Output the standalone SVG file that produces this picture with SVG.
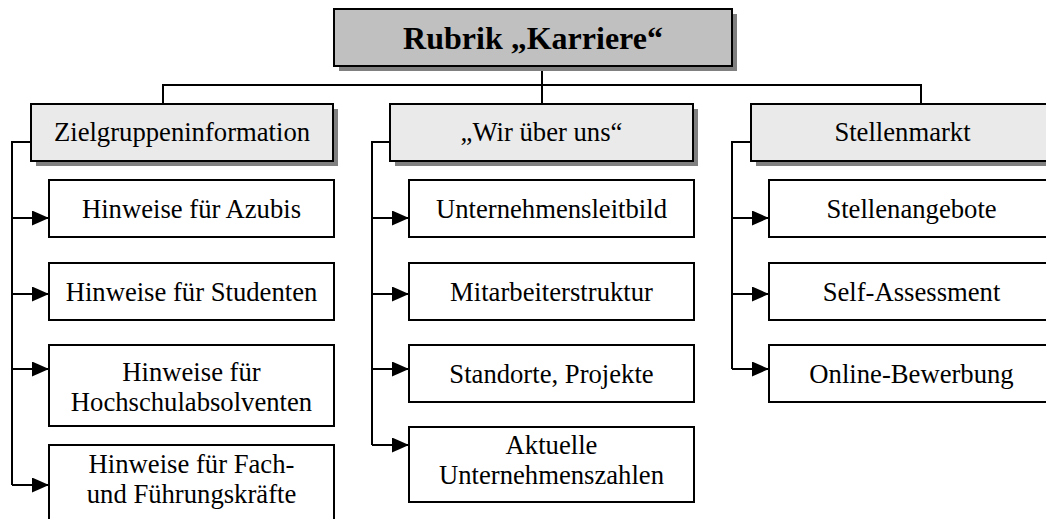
<svg xmlns="http://www.w3.org/2000/svg" width="1046" height="519" viewBox="0 0 1046 519">
<style>
.box{fill:#ffffff;stroke:#000;stroke-width:2}
.hdr{fill:#eaeaea;stroke:#000;stroke-width:2}
.top{fill:#c0c0c0;stroke:#000;stroke-width:2}
.sh{fill:#808080}
.t{font-family:'Liberation Serif','Times New Roman',serif;font-size:26.67px;fill:#000;text-anchor:middle}
.tt{font-family:'Liberation Serif','Times New Roman',serif;font-size:32px;font-weight:bold;fill:#000;text-anchor:middle}
.ln{fill:none;stroke:#000;stroke-width:2}
</style>
<defs>
<marker id="ah" markerUnits="userSpaceOnUse" markerWidth="17" markerHeight="15" refX="17" refY="7.5" orient="auto">
<path d="M0,0 L17,7.5 L0,15 Z" fill="#000"/>
</marker>
</defs>
<rect width="1046" height="519" fill="#fff"/>
<g id="connectors">
<path class="ln" d="M542,66 V104"/>
<path class="ln" d="M163,104 V85 H921 V104"/>
<path class="ln" d="M31,142 H12 V485"/>
<path class="ln" d="M12,218 H49" marker-end="url(#ah)"/>
<path class="ln" d="M12,294 H49" marker-end="url(#ah)"/>
<path class="ln" d="M12,369 H49" marker-end="url(#ah)"/>
<path class="ln" d="M12,485 H49" marker-end="url(#ah)"/>
<path class="ln" d="M390,142 H372 V445"/>
<path class="ln" d="M372,218 H409" marker-end="url(#ah)"/>
<path class="ln" d="M372,294 H409" marker-end="url(#ah)"/>
<path class="ln" d="M372,369 H409" marker-end="url(#ah)"/>
<path class="ln" d="M372,445 H409" marker-end="url(#ah)"/>
<path class="ln" d="M751,142 H732 V369"/>
<path class="ln" d="M732,218 H769" marker-end="url(#ah)"/>
<path class="ln" d="M732,294 H769" marker-end="url(#ah)"/>
<path class="ln" d="M732,369 H769" marker-end="url(#ah)"/>
</g>
<g id="root">
<rect class="sh" x="339" y="14" width="398" height="57"/>
<rect class="top" x="334" y="9" width="398" height="57"/>
<text class="tt" x="533" y="49">Rubrik „Karriere“</text>
</g>
<g id="zielgruppen">
<rect class="sh" x="36" y="109" width="302" height="57"/>
<rect class="hdr" x="31" y="104" width="302" height="57"/>
<text class="t" x="182" y="141">Zielgruppeninformation</text>
</g>
<g id="wir">
<rect class="sh" x="395" y="109" width="303" height="57"/>
<rect class="hdr" x="390" y="104" width="303" height="57"/>
<text class="t" x="541.5" y="141">„Wir über uns“</text>
</g>
<g id="stellenmarkt">
<rect class="sh" x="756" y="109" width="303" height="57"/>
<rect class="hdr" x="751" y="104" width="303" height="57"/>
<text class="t" x="902.5" y="141">Stellenmarkt</text>
</g>
<g id="azubis">
<rect class="box" x="49" y="180" width="285" height="57"/>
<text class="t" x="191.5" y="217.5">Hinweise für Azubis</text>
</g>
<g id="studenten">
<rect class="box" x="49" y="263" width="285" height="57"/>
<text class="t" x="191.5" y="300.5">Hinweise für Studenten</text>
</g>
<g id="hochschul">
<rect class="box" x="49" y="345" width="285" height="81"/>
<text class="t" x="191.5" y="381">Hinweise für</text>
<text class="t" x="191.5" y="411">Hochschulabsolventen</text>
</g>
<g id="fach">
<rect class="box" x="49" y="445" width="285" height="82"/>
<text class="t" x="191.5" y="473">Hinweise für Fach-</text>
<text class="t" x="191.5" y="503">und Führungskräfte</text>
</g>
<g id="leitbild">
<rect class="box" x="409" y="180" width="285" height="57"/>
<text class="t" x="551.5" y="217.5">Unternehmensleitbild</text>
</g>
<g id="mitarbeiter">
<rect class="box" x="409" y="263" width="285" height="57"/>
<text class="t" x="551.5" y="300.5">Mitarbeiterstruktur</text>
</g>
<g id="standorte">
<rect class="box" x="409" y="345" width="285" height="57"/>
<text class="t" x="551.5" y="382.5">Standorte, Projekte</text>
</g>
<g id="zahlen">
<rect class="box" x="409" y="427" width="285" height="75"/>
<text class="t" x="551.5" y="454">Aktuelle</text>
<text class="t" x="551.5" y="484">Unternehmenszahlen</text>
</g>
<g id="angebote">
<rect class="box" x="769" y="180" width="285" height="57"/>
<text class="t" x="911.5" y="217.5">Stellenangebote</text>
</g>
<g id="self">
<rect class="box" x="769" y="263" width="285" height="57"/>
<text class="t" x="911.5" y="300.5">Self-Assessment</text>
</g>
<g id="online">
<rect class="box" x="769" y="345" width="285" height="57"/>
<text class="t" x="911.5" y="382.5">Online-Bewerbung</text>
</g>
</svg>
